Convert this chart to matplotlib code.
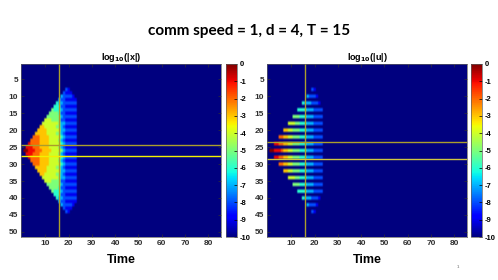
import numpy as np
import matplotlib
matplotlib.use("Agg")
import matplotlib.pyplot as plt

# log10 magnitudes, one string per row:
# each digit k means a cell value of -k, starting at column *_start; all other cells are -10
x_rows = list(range(8, 45))
x_start = [19, 18, 17, 16, 15, 14, 13, 12, 11, 10, 9, 8, 7, 6, 5, 4, 3, 2, 1,
           2, 3, 4, 5, 6, 7, 8, 9, 10, 11, 12, 13, 14, 15, 16, 17, 18, 19]
x_cells = [
    "89",
    "8999",
    "788889",
    "78899999",
    "677888888",
    "6668899999",
    "56667888888",
    "555568899999",
    "5555557888888",
    "44455558899999",
    "444444457788888",
    "3344444557899999",
    "33334444447788888",
    "333334444557899999",
    "2223333444446788888",
    "22223333444457899999",
    "122223333444446788888",
    "1112223333444457899999",
    "00111222333344445788888",
    "1112223333444457899999",
    "122223333444446788888",
    "22223333444457899999",
    "2223333444446788888",
    "333334444557899999",
    "33334444447788888",
    "3344444557899999",
    "444444457788888",
    "44455558899999",
    "5555557888888",
    "555568899999",
    "56667888888",
    "6668899999",
    "677888888",
    "78899999",
    "788889",
    "8999",
    "89",
]

u_rows = list(range(8, 45, 2))
u_start = [19, 17, 15, 13, 11, 9, 7, 5, 3, 1, 3, 5, 7, 9, 11, 13, 15, 17, 19]
u_cells = [
    "89",
    "78889",
    "67778889",
    "66667778888",
    "5556667778888",
    "444556667778888",
    "33445556667778888",
    "2233445556667778888",
    "112233445556667778888",
    "00111233445556667778888",
    "112233445556667778888",
    "2233445556667778888",
    "33445556667778888",
    "444556667778888",
    "5556667778888",
    "66667778888",
    "67778889",
    "78889",
    "89",
]

n_rows, n_cols = 51, 86
t_line = 16
x_hlines = [24.5, 27.5]
u_hlines = [23.5, 28.5]


def build(rows, starts, cells):
    grid = np.full((n_rows, n_cols), -10.0)
    for r, s, txt in zip(rows, starts, cells):
        for k, ch in enumerate(txt):
            grid[r - 1, s + k] = -float(ch)
    return grid


plt.rcParams['font.family'] = ['Liberation Sans', 'DejaVu Sans']
plt.rcParams['font.weight'] = 'bold'
plt.rcParams['axes.unicode_minus'] = False

fig = plt.figure(figsize=(4.98, 2.80), dpi=100)
W, H = 498.0, 280.0

fig.text(0.5, 1 - 35 / H, 'comm speed = 1, d = 4, T = 15', ha='center', va='baseline',
         fontsize=11, fontweight='bold', family=['Lato', 'DejaVu Sans'])

olive = '#aa9e2c'
panels = [
    (21, 226, build(x_rows, x_start, x_cells), r'log$_{\mathbf{10}}$(|x|)', x_hlines,
     [olive, '#f4f000']),
    (267, 471, build(u_rows, u_start, u_cells), r'log$_{\mathbf{10}}$(|u|)', u_hlines,
     [olive, '#d0c640']),
]

for ax_left, cb_left, grid, title, hl, hcols in panels:
    ax = fig.add_axes([ax_left / W, 1 - 237 / H, 200 / W, 173 / H])
    im = ax.imshow(grid, cmap='jet', vmin=-10, vmax=0, aspect='auto',
                   extent=[-0.5, n_cols - 0.5, n_rows + 0.5, 0.5])
    ax.axvline(t_line, color=olive, lw=1.0)
    for y, c in zip(hl, hcols):
        ax.axhline(y, color=c, lw=1.0)
    ax.set_xticks(range(10, 81, 10))
    ax.set_yticks(range(5, 51, 5))
    ax.tick_params(direction='in', length=2, width=0.5, labelsize=6, pad=2,
                   colors='#303030', top=True, right=True)
    for sp in ax.spines.values():
        sp.set_color('#606060')
        sp.set_linewidth(0.5)
    ax.set_title(title, fontsize=6.5, fontweight='bold', pad=3)
    ax.set_xlabel('Time', fontsize=9, fontweight='bold', labelpad=5)

    cax = fig.add_axes([cb_left / W, 1 - 237 / H, 10.5 / W, 173 / H])
    cb = fig.colorbar(im, cax=cax, ticks=range(-10, 1))
    cb.ax.tick_params(direction='in', length=2, width=0.5, labelsize=5.5, pad=2)
    cb.outline.set_linewidth(0.5)
    cb.outline.set_edgecolor('#606060')

fig.text(458 / W, 1 - 268 / H, '1', fontsize=3, color='#909090', ha='center')

fig.savefig('out.png', dpi=100)
